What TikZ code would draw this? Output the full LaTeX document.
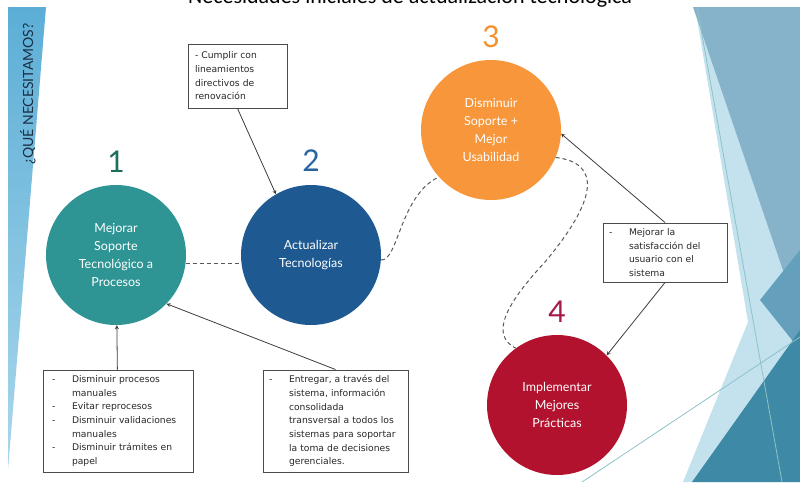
\documentclass[tikz,border=0pt]{standalone}
\usepackage{fontspec}
\setmainfont{Lato}
\newfontfamily\notefont{DejaVu Sans}
\newfontfamily\titlefont{Carlito}
\usepackage{tikz}
\usetikzlibrary{shapes, arrows.meta, positioning, backgrounds}

\definecolor{goalteal}{RGB}{47,148,148}
\definecolor{goalblue}{RGB}{30,90,145}
\definecolor{goalorange}{RGB}{247,150,58}
\definecolor{goalred}{RGB}{178,18,45}
\definecolor{numteal}{RGB}{30,110,92}
\definecolor{numblue}{RGB}{40,100,162}
\definecolor{numorange}{RGB}{245,145,45}
\definecolor{numred}{RGB}{165,25,72}
\definecolor{bandblue}{RGB}{92,174,214}
\definecolor{bandpale}{RGB}{170,215,236}
\definecolor{navy}{RGB}{27,47,69}
\definecolor{facetpale}{RGB}{196,226,238}
\definecolor{facetsteel}{RGB}{134,179,201}
\definecolor{facetmid}{RGB}{100,160,188}
\definecolor{facetdark}{RGB}{62,137,166}
\definecolor{facetline}{RGB}{140,195,198}
\definecolor{boxgray}{RGB}{75,75,75}
\definecolor{notegray}{RGB}{40,40,40}
\definecolor{linegray}{RGB}{60,60,60}

\tikzstyle{arrow} = [line width=0.8pt,->,>=stealth,draw=linegray]
\tikzstyle{link} = [line width=1pt,dash pattern=on 4pt off 3pt,draw=linegray!85]
\tikzset{
    goal/.style={
        circle, minimum size=140pt, inner sep=0pt, text=white, align=center, font=\fontsize{12.5}{18}\selectfont
    },
    goalnum/.style={
        inner sep=0pt, font=\fontsize{30}{30}\selectfont
    },
    notebox/.style={
        rectangle, draw=boxgray, line width=1pt, fill=white, align=left, text=notegray, inner ysep=0pt, font=\notefont\fontsize{9.2}{13.7}\selectfont
    },
    facetline/.style={
        draw=facetline, line width=0.8pt
    }
}

\newcommand{\notedash}{\makebox[20pt][l]{-}}
\newcommand{\noteindent}{\hspace*{20pt}}

\begin{document}
\begin{tikzpicture}[>=stealth, x=1pt, y=-1pt]

    \useasboundingbox (0,0) rectangle (800,482);
    \clip (0,0) rectangle (800,482);

    % Title (cut at the top)
    \node[font=\titlefont\fontsize{22}{22}\selectfont, anchor=base] (title) at (410,3) {Necesidades iniciales de actualización tecnológica};

    % Left band
    \shade[top color=bandblue, bottom color=bandpale] (8,7) -- (46,7) -- (8,470) -- cycle;
    \node[rotate=90, font=\fontsize{14}{14}\selectfont, text=navy] (pregunta) at (28,94) {¿QUÉ NECESITAMOS?};

    % Right facets
    \fill[facetpale] (695,7) -- (800,7) -- (800,482) -- (683,482) -- (748,322) -- cycle;
    \fill[facetsteel] (693,7) -- (800,7) -- (800,320) -- cycle;
    \fill[facetmid] (760,300) -- (800,250) -- (800,350) -- cycle;
    \fill[facetdark] (692,482) -- (800,330) -- (800,482) -- cycle;
    \draw[facetline] (697,7) -- (782,482);
    \draw[facetline] (582,482) -- (800,337);

    % Goals
    \node[goal, fill=goalteal] (soporte) at (116,255) {Mejorar\\Soporte\\Tecnológico a\\Procesos};
    \node[goal, fill=goalblue] (actualizar) at (311,255) {Actualizar\\Tecnologías};
    \node[goal, fill=goalorange] (usabilidad) at (491,130) {Disminuir\\Soporte +\\Mejor\\Usabilidad};
    \node[goal, fill=goalred] (practicas) at (557,405) {Implementar\\Mejores\\Prácticas};

    % Step numbers
    \node[goalnum, text=numteal, above=12pt of soporte] (uno) {1};
    \node[goalnum, text=numblue, above=13pt of actualizar] (dos) {2};
    \node[goalnum, text=numorange, above=12pt of usabilidad] (tres) {3};
    \node[goalnum, text=numred, above=12pt of practicas] (cuatro) {4};

    % Notes
    \node[notebox, text width=85pt, inner xsep=7pt, minimum height=64pt] (cumplir) at (237.5,76) {- Cumplir con\\lineamientos\\directivos de\\renovación};
    \node[notebox, text width=132pt, inner xsep=9pt, minimum height=102pt] (tramites) at (118,421) {\notedash Disminuir procesos\\\noteindent manuales\\\notedash Evitar reprocesos\\\notedash Disminuir validaciones\\\noteindent manuales\\\notedash Disminuir trámites en\\\noteindent papel};
    \node[notebox, text width=133pt, inner xsep=6pt, minimum height=102pt] (entregar) at (335.5,421) {\notedash Entregar, a través del\\\noteindent sistema, información\\\noteindent consolidada\\\noteindent transversal a todos los\\\noteindent sistemas para soportar\\\noteindent la toma de decisiones\\\noteindent gerenciales.};
    \node[notebox, text width=112pt, inner xsep=6pt, minimum height=59pt] (satisfaccion) at (665,252.5) {\notedash Mejorar la\\\noteindent satisfacción del\\\noteindent usuario con el\\\noteindent sistema};

    % Dashed path between goals
    \draw[link] (soporte.-7) -- (actualizar.187);
    \draw[link] (actualizar.-4) .. controls (398,262) and (400,195) .. (usabilidad.222);
    \draw[link] (usabilidad.-23) .. controls (602,163) and (597,200) .. (545,262) .. controls (505,305) and (490,335) .. (practicas.126);

    % Relationships
    \draw[arrow] (cumplir.south) -- (actualizar.120);
    \draw[arrow] (tramites) -- (soporte);
    \draw[arrow] (entregar.north) -- (soporte.-44);
    \draw[arrow] (satisfaccion.north) -- (usabilidad.-3);
    \draw[arrow] (satisfaccion.south) -- (practicas.45);

\end{tikzpicture}
\end{document}
